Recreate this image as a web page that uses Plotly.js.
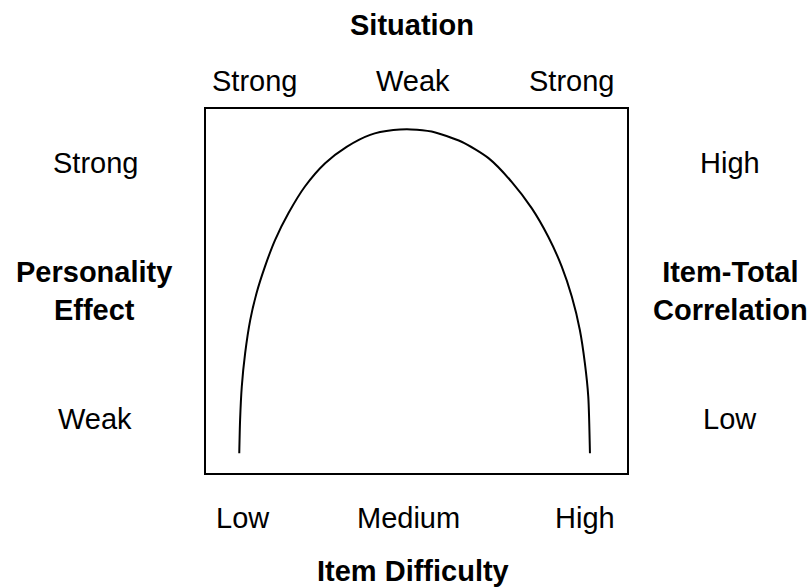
<!DOCTYPE html>
<html>
<head>
<meta charset="utf-8">
<script src="https://cdn.plot.ly/plotly-3.0.1.min.js"></script>
<style>
  html,body{margin:0;padding:0;background:#fff;}
  #chart{width:811px;height:588px;}
</style>
</head>
<body>
<div id="chart"></div>
<script>
// curve, axes run 0..100 inside the box
const curveX = [7.9, 8.1, 8.5, 9.3, 10.5, 12.0, 14.0, 16.4, 19.6, 23.5, 28.3, 33.4, 39.0, 44.5, 48.7,
                53.6, 60.7, 67.1, 72.6, 77.4, 81.3, 84.5, 86.9, 88.8, 90.0, 90.8, 91.2];
const curveY = [5.4, 14.6, 23.7, 32.9, 42.0, 49.4, 56.7, 64.0, 71.4, 78.7, 85.1, 89.6, 92.9, 94.2, 94.4,
                93.8, 91.0, 86.5, 80.0, 72.7, 64.9, 56.7, 48.4, 39.3, 30.1, 21.0, 5.4];

const topTitle = 'Situation';
const topLabels = ['Strong', 'Weak', 'Strong'];
const bottomTitle = 'Item Difficulty';
const bottomLabels = ['Low', 'Medium', 'High'];
const leftTitle = 'Personality<br>Effect';
const leftLabels = ['Strong', 'Weak'];
const rightTitle = 'Item-Total<br>Correlation';
const rightLabels = ['High', 'Low'];

// plot box in pixels
const W = 811, H = 588;
const box = {l: 206, r: 627, t: 109, b: 473};
const px = x => (x - box.l) / (box.r - box.l);
const py = y => (box.b - y) / (box.b - box.t);

const FONT = 'Liberation Sans, Arial, sans-serif';
const FS = 29;

function lab(text, x, y, bold){
  return {
    text: bold ? '<b>' + text + '</b>' : text,
    xref: 'paper', yref: 'paper', x: px(x), y: py(y),
    xanchor: 'center', yanchor: 'middle', showarrow: false,
    font: {family: FONT, size: FS, color: '#000'}
  };
}

const topX = [254, 413, 571], bottomX = [243, 408, 585], sideY = [163, 419];
const ann = [lab(topTitle, 412, 25.5, true), lab(bottomTitle, 413, 571, true),
             lab(leftTitle, 94, 290.5, true), lab(rightTitle, 730, 290.5, true)];
topLabels.forEach((t, i) => ann.push(lab(t, topX[i], 81)));
bottomLabels.forEach((t, i) => ann.push(lab(t, bottomX[i], 518)));
leftLabels.forEach((t, i) => ann.push(lab(t, 95, sideY[i])));
rightLabels.forEach((t, i) => ann.push(lab(t, 730, sideY[i])));

const ax = {range: [0, 100], showgrid: false, zeroline: false, showticklabels: false, ticks: '',
            showline: true, mirror: true, linecolor: '#000', linewidth: 2, fixedrange: true};

Plotly.newPlot('chart', [{
  type: 'scatter', mode: 'lines', x: curveX, y: curveY,
  line: {color: '#000', width: 2, shape: 'spline', smoothing: 0.7},
  hoverinfo: 'skip'
}], {
  width: W, height: H,
  margin: {l: box.l, r: W - box.r, t: box.t, b: H - box.b, pad: 0},
  paper_bgcolor: '#fff', plot_bgcolor: '#fff',
  showlegend: false,
  xaxis: ax, yaxis: Object.assign({}, ax),
  annotations: ann
}, {displayModeBar: false, staticPlot: true});
</script>
</body>
</html>
